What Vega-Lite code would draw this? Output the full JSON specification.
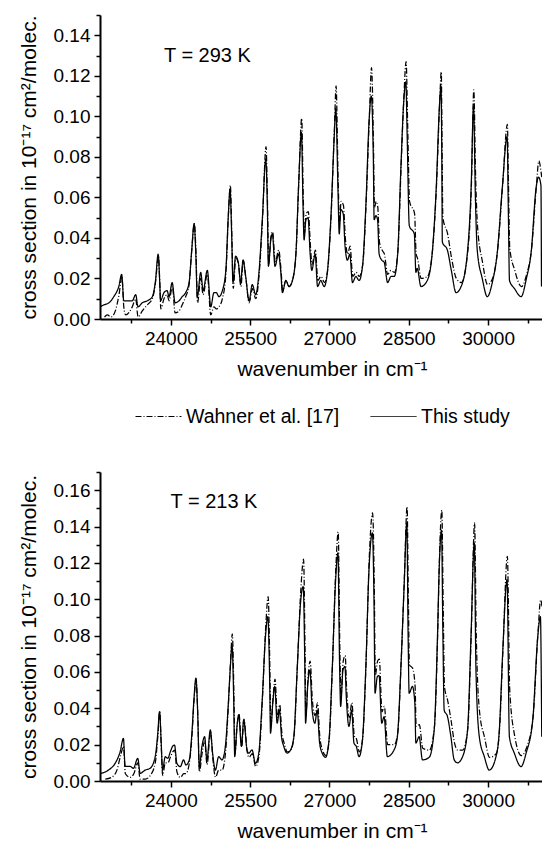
{
"$schema": "https://vega.github.io/schema/vega-lite/v6.json",
"padding": {"left": 18, "top": 14, "right": 0, "bottom": 0},
"spacing": 45,
"config": {
  "view": {"stroke": null},
  "font": "Liberation Sans",
  "axis": {"domainColor": "#000", "domainWidth": 2, "tickColor": "#000", "tickWidth": 1.5, "labelFont": "Liberation Sans", "labelFontSize": 19, "labelColor": "#000", "titleFont": "Liberation Sans", "titleFontSize": 21, "titleColor": "#000", "titleFontWeight": "normal", "grid": false, "labelFlush": false, "labelOverlap": false, "labelPadding": 4, "tickCount": 100},
  "legend": {"labelFont": "Liberation Sans", "labelFontSize": 19.5, "labelColor": "#000"}
},
"resolve": {"scale": {"strokeDash": "independent"}},
"datasets": {
"hot": [
{"x":22660,"y":0.006,"s":"This study"},{"x":22735,"y":0.007,"s":"This study"},{"x":22830,"y":0.008,"s":"This study"},{"x":22920,"y":0.011,"s":"This study"},{"x":23015,"y":0.016,"s":"This study"},{"x":23070,"y":0.022,"s":"This study"},{"x":23110,"y":0.009,"s":"This study"},{"x":23205,"y":0.009,"s":"This study"},{"x":23270,"y":0.009,"s":"This study"},{"x":23335,"y":0.012,"s":"This study"},{"x":23380,"y":0.006,"s":"This study"},{"x":23460,"y":0.008,"s":"This study"},{"x":23555,"y":0.009,"s":"This study"},{"x":23650,"y":0.011,"s":"This study"},{"x":23710,"y":0.019,"s":"This study"},{"x":23760,"y":0.032,"s":"This study"},{"x":23790,"y":0.018,"s":"This study"},{"x":23805,"y":0.009,"s":"This study"},{"x":23870,"y":0.013,"s":"This study"},{"x":23930,"y":0.014,"s":"This study"},{"x":23965,"y":0.011,"s":"This study"},{"x":24025,"y":0.018,"s":"This study"},{"x":24080,"y":0.008,"s":"This study"},{"x":24155,"y":0.009,"s":"This study"},{"x":24215,"y":0.011,"s":"This study"},{"x":24280,"y":0.013,"s":"This study"},{"x":24345,"y":0.018,"s":"This study"},{"x":24395,"y":0.034,"s":"This study"},{"x":24440,"y":0.047,"s":"This study"},{"x":24470,"y":0.034,"s":"This study"},{"x":24500,"y":0.011,"s":"This study"},{"x":24565,"y":0.023,"s":"This study"},{"x":24610,"y":0.014,"s":"This study"},{"x":24690,"y":0.024,"s":"This study"},{"x":24755,"y":0.006,"s":"This study"},{"x":24815,"y":0.013,"s":"This study"},{"x":24860,"y":0.013,"s":"This study"},{"x":24910,"y":0.011,"s":"This study"},{"x":24975,"y":0.014,"s":"This study"},{"x":25040,"y":0.024,"s":"This study"},{"x":25085,"y":0.050,"s":"This study"},{"x":25120,"y":0.064,"s":"This study"},{"x":25150,"y":0.042,"s":"This study"},{"x":25175,"y":0.018,"s":"This study"},{"x":25225,"y":0.031,"s":"This study"},{"x":25275,"y":0.028,"s":"This study"},{"x":25320,"y":0.018,"s":"This study"},{"x":25365,"y":0.029,"s":"This study"},{"x":25415,"y":0.021,"s":"This study"},{"x":25480,"y":0.009,"s":"This study"},{"x":25540,"y":0.017,"s":"This study"},{"x":25605,"y":0.012,"s":"This study"},{"x":25670,"y":0.024,"s":"This study"},{"x":25730,"y":0.049,"s":"This study"},{"x":25795,"y":0.079,"s":"This study"},{"x":25825,"y":0.056,"s":"This study"},{"x":25845,"y":0.026,"s":"This study"},{"x":25890,"y":0.039,"s":"This study"},{"x":25920,"y":0.042,"s":"This study"},{"x":25970,"y":0.026,"s":"This study"},{"x":26035,"y":0.032,"s":"This study"},{"x":26080,"y":0.023,"s":"This study"},{"x":26110,"y":0.013,"s":"This study"},{"x":26175,"y":0.019,"s":"This study"},{"x":26235,"y":0.016,"s":"This study"},{"x":26300,"y":0.019,"s":"This study"},{"x":26365,"y":0.032,"s":"This study"},{"x":26415,"y":0.065,"s":"This study"},{"x":26470,"y":0.092,"s":"This study"},{"x":26500,"y":0.056,"s":"This study"},{"x":26520,"y":0.039,"s":"This study"},{"x":26555,"y":0.049,"s":"This study"},{"x":26595,"y":0.050,"s":"This study"},{"x":26635,"y":0.032,"s":"This study"},{"x":26665,"y":0.024,"s":"This study"},{"x":26730,"y":0.032,"s":"This study"},{"x":26775,"y":0.016,"s":"This study"},{"x":26835,"y":0.019,"s":"This study"},{"x":26900,"y":0.016,"s":"This study"},{"x":26960,"y":0.023,"s":"This study"},{"x":27025,"y":0.049,"s":"This study"},{"x":27090,"y":0.090,"s":"This study"},{"x":27120,"y":0.104,"s":"This study"},{"x":27160,"y":0.065,"s":"This study"},{"x":27185,"y":0.042,"s":"This study"},{"x":27215,"y":0.054,"s":"This study"},{"x":27260,"y":0.052,"s":"This study"},{"x":27295,"y":0.036,"s":"This study"},{"x":27340,"y":0.029,"s":"This study"},{"x":27385,"y":0.032,"s":"This study"},{"x":27435,"y":0.018,"s":"This study"},{"x":27500,"y":0.021,"s":"This study"},{"x":27560,"y":0.019,"s":"This study"},{"x":27625,"y":0.026,"s":"This study"},{"x":27690,"y":0.057,"s":"This study"},{"x":27750,"y":0.098,"s":"This study"},{"x":27790,"y":0.110,"s":"This study"},{"x":27830,"y":0.079,"s":"This study"},{"x":27845,"y":0.049,"s":"This study"},{"x":27880,"y":0.051,"s":"This study"},{"x":27910,"y":0.049,"s":"This study"},{"x":27940,"y":0.032,"s":"This study"},{"x":27990,"y":0.029,"s":"This study"},{"x":28035,"y":0.028,"s":"This study"},{"x":28100,"y":0.018,"s":"This study"},{"x":28165,"y":0.021,"s":"This study"},{"x":28225,"y":0.021,"s":"This study"},{"x":28290,"y":0.032,"s":"This study"},{"x":28350,"y":0.074,"s":"This study"},{"x":28400,"y":0.105,"s":"This study"},{"x":28445,"y":0.117,"s":"This study"},{"x":28470,"y":0.090,"s":"This study"},{"x":28510,"y":0.046,"s":"This study"},{"x":28605,"y":0.042,"s":"This study"},{"x":28635,"y":0.023,"s":"This study"},{"x":28660,"y":0.025,"s":"This study"},{"x":28730,"y":0.016,"s":"This study"},{"x":28850,"y":0.019,"s":"This study"},{"x":28945,"y":0.033,"s":"This study"},{"x":29020,"y":0.065,"s":"This study"},{"x":29080,"y":0.105,"s":"This study"},{"x":29110,"y":0.115,"s":"This study"},{"x":29125,"y":0.080,"s":"This study"},{"x":29135,"y":0.038,"s":"This study"},{"x":29230,"y":0.034,"s":"This study"},{"x":29305,"y":0.024,"s":"This study"},{"x":29395,"y":0.013,"s":"This study"},{"x":29490,"y":0.016,"s":"This study"},{"x":29610,"y":0.033,"s":"This study"},{"x":29680,"y":0.065,"s":"This study"},{"x":29725,"y":0.105,"s":"This study"},{"x":29760,"y":0.060,"s":"This study"},{"x":29795,"y":0.034,"s":"This study"},{"x":29890,"y":0.020,"s":"This study"},{"x":29985,"y":0.011,"s":"This study"},{"x":30080,"y":0.018,"s":"This study"},{"x":30175,"y":0.033,"s":"This study"},{"x":30270,"y":0.065,"s":"This study"},{"x":30360,"y":0.090,"s":"This study"},{"x":30385,"y":0.050,"s":"This study"},{"x":30405,"y":0.019,"s":"This study"},{"x":30500,"y":0.015,"s":"This study"},{"x":30625,"y":0.011,"s":"This study"},{"x":30725,"y":0.020,"s":"This study"},{"x":30815,"y":0.033,"s":"This study"},{"x":30910,"y":0.065,"s":"This study"},{"x":30955,"y":0.070,"s":"This study"},{"x":31000,"y":0.066,"s":"This study"},{"x":31010,"y":0.016,"s":"This study"},
{"x":22745,"y":0.001,"s":"Wahner et al. [17]"},{"x":22800,"y":0.002,"s":"Wahner et al. [17]"},{"x":22870,"y":0.001,"s":"Wahner et al. [17]"},{"x":22950,"y":0.004,"s":"Wahner et al. [17]"},{"x":23020,"y":0.012,"s":"Wahner et al. [17]"},{"x":23075,"y":0.021,"s":"Wahner et al. [17]"},{"x":23110,"y":0.006,"s":"Wahner et al. [17]"},{"x":23145,"y":0.002,"s":"Wahner et al. [17]"},{"x":23270,"y":0.006,"s":"Wahner et al. [17]"},{"x":23335,"y":0.010,"s":"Wahner et al. [17]"},{"x":23380,"y":0.001,"s":"Wahner et al. [17]"},{"x":23460,"y":0.004,"s":"Wahner et al. [17]"},{"x":23555,"y":0.007,"s":"Wahner et al. [17]"},{"x":23650,"y":0.010,"s":"Wahner et al. [17]"},{"x":23710,"y":0.018,"s":"Wahner et al. [17]"},{"x":23765,"y":0.031,"s":"Wahner et al. [17]"},{"x":23795,"y":0.015,"s":"Wahner et al. [17]"},{"x":23810,"y":0.005,"s":"Wahner et al. [17]"},{"x":23870,"y":0.010,"s":"Wahner et al. [17]"},{"x":23930,"y":0.012,"s":"Wahner et al. [17]"},{"x":23965,"y":0.009,"s":"Wahner et al. [17]"},{"x":24030,"y":0.016,"s":"Wahner et al. [17]"},{"x":24080,"y":0.003,"s":"Wahner et al. [17]"},{"x":24155,"y":0.004,"s":"Wahner et al. [17]"},{"x":24215,"y":0.007,"s":"Wahner et al. [17]"},{"x":24280,"y":0.011,"s":"Wahner et al. [17]"},{"x":24345,"y":0.017,"s":"Wahner et al. [17]"},{"x":24395,"y":0.034,"s":"Wahner et al. [17]"},{"x":24445,"y":0.047,"s":"Wahner et al. [17]"},{"x":24475,"y":0.033,"s":"Wahner et al. [17]"},{"x":24505,"y":0.008,"s":"Wahner et al. [17]"},{"x":24565,"y":0.020,"s":"Wahner et al. [17]"},{"x":24610,"y":0.012,"s":"Wahner et al. [17]"},{"x":24690,"y":0.022,"s":"Wahner et al. [17]"},{"x":24755,"y":0.002,"s":"Wahner et al. [17]"},{"x":24815,"y":0.006,"s":"Wahner et al. [17]"},{"x":24860,"y":0.005,"s":"Wahner et al. [17]"},{"x":24910,"y":0.006,"s":"Wahner et al. [17]"},{"x":24975,"y":0.010,"s":"Wahner et al. [17]"},{"x":25040,"y":0.022,"s":"Wahner et al. [17]"},{"x":25090,"y":0.052,"s":"Wahner et al. [17]"},{"x":25125,"y":0.066,"s":"Wahner et al. [17]"},{"x":25155,"y":0.040,"s":"Wahner et al. [17]"},{"x":25180,"y":0.015,"s":"Wahner et al. [17]"},{"x":25230,"y":0.030,"s":"Wahner et al. [17]"},{"x":25280,"y":0.027,"s":"Wahner et al. [17]"},{"x":25325,"y":0.016,"s":"Wahner et al. [17]"},{"x":25370,"y":0.029,"s":"Wahner et al. [17]"},{"x":25420,"y":0.020,"s":"Wahner et al. [17]"},{"x":25480,"y":0.008,"s":"Wahner et al. [17]"},{"x":25545,"y":0.015,"s":"Wahner et al. [17]"},{"x":25605,"y":0.010,"s":"Wahner et al. [17]"},{"x":25670,"y":0.022,"s":"Wahner et al. [17]"},{"x":25735,"y":0.050,"s":"Wahner et al. [17]"},{"x":25800,"y":0.085,"s":"Wahner et al. [17]"},{"x":25830,"y":0.055,"s":"Wahner et al. [17]"},{"x":25850,"y":0.027,"s":"Wahner et al. [17]"},{"x":25895,"y":0.041,"s":"Wahner et al. [17]"},{"x":25925,"y":0.043,"s":"Wahner et al. [17]"},{"x":25975,"y":0.028,"s":"Wahner et al. [17]"},{"x":26040,"y":0.034,"s":"Wahner et al. [17]"},{"x":26085,"y":0.024,"s":"Wahner et al. [17]"},{"x":26115,"y":0.014,"s":"Wahner et al. [17]"},{"x":26175,"y":0.019,"s":"Wahner et al. [17]"},{"x":26240,"y":0.016,"s":"Wahner et al. [17]"},{"x":26300,"y":0.019,"s":"Wahner et al. [17]"},{"x":26370,"y":0.034,"s":"Wahner et al. [17]"},{"x":26420,"y":0.068,"s":"Wahner et al. [17]"},{"x":26475,"y":0.099,"s":"Wahner et al. [17]"},{"x":26505,"y":0.060,"s":"Wahner et al. [17]"},{"x":26525,"y":0.042,"s":"Wahner et al. [17]"},{"x":26560,"y":0.052,"s":"Wahner et al. [17]"},{"x":26600,"y":0.053,"s":"Wahner et al. [17]"},{"x":26640,"y":0.036,"s":"Wahner et al. [17]"},{"x":26670,"y":0.027,"s":"Wahner et al. [17]"},{"x":26735,"y":0.034,"s":"Wahner et al. [17]"},{"x":26780,"y":0.019,"s":"Wahner et al. [17]"},{"x":26840,"y":0.021,"s":"Wahner et al. [17]"},{"x":26905,"y":0.018,"s":"Wahner et al. [17]"},{"x":26965,"y":0.024,"s":"Wahner et al. [17]"},{"x":27030,"y":0.050,"s":"Wahner et al. [17]"},{"x":27095,"y":0.095,"s":"Wahner et al. [17]"},{"x":27125,"y":0.115,"s":"Wahner et al. [17]"},{"x":27165,"y":0.068,"s":"Wahner et al. [17]"},{"x":27190,"y":0.047,"s":"Wahner et al. [17]"},{"x":27220,"y":0.058,"s":"Wahner et al. [17]"},{"x":27265,"y":0.056,"s":"Wahner et al. [17]"},{"x":27300,"y":0.040,"s":"Wahner et al. [17]"},{"x":27345,"y":0.032,"s":"Wahner et al. [17]"},{"x":27390,"y":0.036,"s":"Wahner et al. [17]"},{"x":27440,"y":0.021,"s":"Wahner et al. [17]"},{"x":27505,"y":0.023,"s":"Wahner et al. [17]"},{"x":27565,"y":0.021,"s":"Wahner et al. [17]"},{"x":27630,"y":0.027,"s":"Wahner et al. [17]"},{"x":27695,"y":0.058,"s":"Wahner et al. [17]"},{"x":27755,"y":0.100,"s":"Wahner et al. [17]"},{"x":27795,"y":0.124,"s":"Wahner et al. [17]"},{"x":27835,"y":0.082,"s":"Wahner et al. [17]"},{"x":27850,"y":0.055,"s":"Wahner et al. [17]"},{"x":27885,"y":0.058,"s":"Wahner et al. [17]"},{"x":27915,"y":0.055,"s":"Wahner et al. [17]"},{"x":27945,"y":0.038,"s":"Wahner et al. [17]"},{"x":27995,"y":0.034,"s":"Wahner et al. [17]"},{"x":28040,"y":0.032,"s":"Wahner et al. [17]"},{"x":28100,"y":0.022,"s":"Wahner et al. [17]"},{"x":28165,"y":0.024,"s":"Wahner et al. [17]"},{"x":28230,"y":0.023,"s":"Wahner et al. [17]"},{"x":28295,"y":0.034,"s":"Wahner et al. [17]"},{"x":28355,"y":0.075,"s":"Wahner et al. [17]"},{"x":28405,"y":0.108,"s":"Wahner et al. [17]"},{"x":28450,"y":0.127,"s":"Wahner et al. [17]"},{"x":28480,"y":0.095,"s":"Wahner et al. [17]"},{"x":28515,"y":0.058,"s":"Wahner et al. [17]"},{"x":28610,"y":0.052,"s":"Wahner et al. [17]"},{"x":28640,"y":0.032,"s":"Wahner et al. [17]"},{"x":28665,"y":0.030,"s":"Wahner et al. [17]"},{"x":28735,"y":0.020,"s":"Wahner et al. [17]"},{"x":28855,"y":0.021,"s":"Wahner et al. [17]"},{"x":28950,"y":0.034,"s":"Wahner et al. [17]"},{"x":29025,"y":0.066,"s":"Wahner et al. [17]"},{"x":29085,"y":0.107,"s":"Wahner et al. [17]"},{"x":29115,"y":0.122,"s":"Wahner et al. [17]"},{"x":29130,"y":0.085,"s":"Wahner et al. [17]"},{"x":29145,"y":0.050,"s":"Wahner et al. [17]"},{"x":29235,"y":0.042,"s":"Wahner et al. [17]"},{"x":29310,"y":0.030,"s":"Wahner et al. [17]"},{"x":29400,"y":0.020,"s":"Wahner et al. [17]"},{"x":29495,"y":0.018,"s":"Wahner et al. [17]"},{"x":29615,"y":0.033,"s":"Wahner et al. [17]"},{"x":29685,"y":0.066,"s":"Wahner et al. [17]"},{"x":29730,"y":0.113,"s":"Wahner et al. [17]"},{"x":29765,"y":0.070,"s":"Wahner et al. [17]"},{"x":29800,"y":0.046,"s":"Wahner et al. [17]"},{"x":29895,"y":0.028,"s":"Wahner et al. [17]"},{"x":29990,"y":0.017,"s":"Wahner et al. [17]"},{"x":30085,"y":0.020,"s":"Wahner et al. [17]"},{"x":30180,"y":0.034,"s":"Wahner et al. [17]"},{"x":30275,"y":0.066,"s":"Wahner et al. [17]"},{"x":30365,"y":0.096,"s":"Wahner et al. [17]"},{"x":30390,"y":0.060,"s":"Wahner et al. [17]"},{"x":30410,"y":0.035,"s":"Wahner et al. [17]"},{"x":30505,"y":0.024,"s":"Wahner et al. [17]"},{"x":30630,"y":0.016,"s":"Wahner et al. [17]"},{"x":30730,"y":0.022,"s":"Wahner et al. [17]"},{"x":30820,"y":0.034,"s":"Wahner et al. [17]"},{"x":30915,"y":0.066,"s":"Wahner et al. [17]"},{"x":30960,"y":0.078,"s":"Wahner et al. [17]"},{"x":31005,"y":0.072,"s":"Wahner et al. [17]"},{"x":31015,"y":0.070,"s":"Wahner et al. [17]"}
],
"cold": [
{"x":22655,"y":0.004,"s":"This study"},{"x":22819,"y":0.006,"s":"This study"},{"x":22946,"y":0.0097,"s":"This study"},{"x":23040,"y":0.016,"s":"This study"},{"x":23103,"y":0.0235,"s":"This study"},{"x":23135,"y":0.008,"s":"This study"},{"x":23230,"y":0.008,"s":"This study"},{"x":23293,"y":0.007,"s":"This study"},{"x":23374,"y":0.0125,"s":"This study"},{"x":23420,"y":0.0042,"s":"This study"},{"x":23514,"y":0.006,"s":"This study"},{"x":23609,"y":0.007,"s":"This study"},{"x":23704,"y":0.0134,"s":"This study"},{"x":23753,"y":0.0263,"s":"This study"},{"x":23786,"y":0.0382,"s":"This study"},{"x":23818,"y":0.0208,"s":"This study"},{"x":23843,"y":0.006,"s":"This study"},{"x":23894,"y":0.0134,"s":"This study"},{"x":23943,"y":0.0125,"s":"This study"},{"x":23989,"y":0.016,"s":"This study"},{"x":24032,"y":0.019,"s":"This study"},{"x":24070,"y":0.0198,"s":"This study"},{"x":24114,"y":0.0097,"s":"This study"},{"x":24178,"y":0.0079,"s":"This study"},{"x":24241,"y":0.0116,"s":"This study"},{"x":24284,"y":0.0088,"s":"This study"},{"x":24349,"y":0.0116,"s":"This study"},{"x":24398,"y":0.0263,"s":"This study"},{"x":24436,"y":0.0446,"s":"This study"},{"x":24474,"y":0.0566,"s":"This study"},{"x":24506,"y":0.039,"s":"This study"},{"x":24538,"y":0.0079,"s":"This study"},{"x":24588,"y":0.019,"s":"This study"},{"x":24639,"y":0.0244,"s":"This study"},{"x":24682,"y":0.0116,"s":"This study"},{"x":24747,"y":0.0281,"s":"This study"},{"x":24790,"y":0.0153,"s":"This study"},{"x":24842,"y":0.006,"s":"This study"},{"x":24904,"y":0.0134,"s":"This study"},{"x":24967,"y":0.0116,"s":"This study"},{"x":25031,"y":0.019,"s":"This study"},{"x":25080,"y":0.039,"s":"This study"},{"x":25126,"y":0.063,"s":"This study"},{"x":25156,"y":0.075,"s":"This study"},{"x":25189,"y":0.0446,"s":"This study"},{"x":25208,"y":0.0134,"s":"This study"},{"x":25251,"y":0.030,"s":"This study"},{"x":25283,"y":0.0364,"s":"This study"},{"x":25335,"y":0.019,"s":"This study"},{"x":25378,"y":0.0336,"s":"This study"},{"x":25441,"y":0.017,"s":"This study"},{"x":25473,"y":0.0153,"s":"This study"},{"x":25536,"y":0.0171,"s":"This study"},{"x":25600,"y":0.0097,"s":"This study"},{"x":25663,"y":0.0153,"s":"This study"},{"x":25725,"y":0.0428,"s":"This study"},{"x":25790,"y":0.0795,"s":"This study"},{"x":25833,"y":0.0905,"s":"This study"},{"x":25871,"y":0.052,"s":"This study"},{"x":25885,"y":0.0263,"s":"This study"},{"x":25928,"y":0.0428,"s":"This study"},{"x":25966,"y":0.052,"s":"This study"},{"x":26010,"y":0.0318,"s":"This study"},{"x":26055,"y":0.039,"s":"This study"},{"x":26093,"y":0.0244,"s":"This study"},{"x":26137,"y":0.019,"s":"This study"},{"x":26199,"y":0.0153,"s":"This study"},{"x":26264,"y":0.0171,"s":"This study"},{"x":26326,"y":0.0244,"s":"This study"},{"x":26389,"y":0.061,"s":"This study"},{"x":26453,"y":0.098,"s":"This study"},{"x":26503,"y":0.107,"s":"This study"},{"x":26535,"y":0.061,"s":"This study"},{"x":26548,"y":0.0318,"s":"This study"},{"x":26592,"y":0.0538,"s":"This study"},{"x":26630,"y":0.061,"s":"This study"},{"x":26673,"y":0.039,"s":"This study"},{"x":26724,"y":0.0318,"s":"This study"},{"x":26768,"y":0.039,"s":"This study"},{"x":26814,"y":0.0208,"s":"This study"},{"x":26863,"y":0.0153,"s":"This study"},{"x":26927,"y":0.013,"s":"This study"},{"x":26990,"y":0.022,"s":"This study"},{"x":27052,"y":0.061,"s":"This study"},{"x":27117,"y":0.1108,"s":"This study"},{"x":27160,"y":0.1255,"s":"This study"},{"x":27193,"y":0.061,"s":"This study"},{"x":27212,"y":0.041,"s":"This study"},{"x":27255,"y":0.061,"s":"This study"},{"x":27293,"y":0.063,"s":"This study"},{"x":27318,"y":0.0465,"s":"This study"},{"x":27369,"y":0.030,"s":"This study"},{"x":27420,"y":0.039,"s":"This study"},{"x":27464,"y":0.0208,"s":"This study"},{"x":27508,"y":0.019,"s":"This study"},{"x":27559,"y":0.0134,"s":"This study"},{"x":27621,"y":0.0215,"s":"This study"},{"x":27686,"y":0.061,"s":"This study"},{"x":27748,"y":0.1163,"s":"This study"},{"x":27811,"y":0.1365,"s":"This study"},{"x":27843,"y":0.098,"s":"This study"},{"x":27862,"y":0.0483,"s":"This study"},{"x":27906,"y":0.0575,"s":"This study"},{"x":27938,"y":0.058,"s":"This study"},{"x":27989,"y":0.0318,"s":"This study"},{"x":28033,"y":0.0354,"s":"This study"},{"x":28095,"y":0.0134,"s":"This study"},{"x":28222,"y":0.0171,"s":"This study"},{"x":28285,"y":0.0244,"s":"This study"},{"x":28349,"y":0.061,"s":"This study"},{"x":28412,"y":0.107,"s":"This study"},{"x":28463,"y":0.142,"s":"This study"},{"x":28488,"y":0.0795,"s":"This study"},{"x":28507,"y":0.0483,"s":"This study"},{"x":28569,"y":0.052,"s":"This study"},{"x":28615,"y":0.0428,"s":"This study"},{"x":28634,"y":0.0208,"s":"This study"},{"x":28696,"y":0.0244,"s":"This study"},{"x":28759,"y":0.0116,"s":"This study"},{"x":28886,"y":0.013,"s":"This study"},{"x":28981,"y":0.028,"s":"This study"},{"x":29043,"y":0.0795,"s":"This study"},{"x":29075,"y":0.1163,"s":"This study"},{"x":29119,"y":0.138,"s":"This study"},{"x":29146,"y":0.0795,"s":"This study"},{"x":29170,"y":0.039,"s":"This study"},{"x":29233,"y":0.0354,"s":"This study"},{"x":29297,"y":0.0244,"s":"This study"},{"x":29360,"y":0.0116,"s":"This study"},{"x":29423,"y":0.010,"s":"This study"},{"x":29518,"y":0.0134,"s":"This study"},{"x":29612,"y":0.028,"s":"This study"},{"x":29677,"y":0.0795,"s":"This study"},{"x":29739,"y":0.131,"s":"This study"},{"x":29771,"y":0.061,"s":"This study"},{"x":29834,"y":0.0244,"s":"This study"},{"x":29929,"y":0.0134,"s":"This study"},{"x":30023,"y":0.006,"s":"This study"},{"x":30150,"y":0.0134,"s":"This study"},{"x":30213,"y":0.028,"s":"This study"},{"x":30276,"y":0.0704,"s":"This study"},{"x":30359,"y":0.1108,"s":"This study"},{"x":30403,"y":0.0244,"s":"This study"},{"x":30497,"y":0.0153,"s":"This study"},{"x":30624,"y":0.0079,"s":"This study"},{"x":30719,"y":0.0153,"s":"This study"},{"x":30845,"y":0.0336,"s":"This study"},{"x":30940,"y":0.0795,"s":"This study"},{"x":30990,"y":0.0905,"s":"This study"},{"x":31015,"y":0.0244,"s":"This study"},
{"x":22760,"y":0.001,"s":"Wahner et al. [17]"},{"x":22880,"y":0.002,"s":"Wahner et al. [17]"},{"x":22980,"y":0.006,"s":"Wahner et al. [17]"},{"x":23050,"y":0.014,"s":"Wahner et al. [17]"},{"x":23105,"y":0.019,"s":"Wahner et al. [17]"},{"x":23140,"y":0.004,"s":"Wahner et al. [17]"},{"x":23230,"y":0.002,"s":"Wahner et al. [17]"},{"x":23300,"y":0.004,"s":"Wahner et al. [17]"},{"x":23375,"y":0.010,"s":"Wahner et al. [17]"},{"x":23420,"y":0.001,"s":"Wahner et al. [17]"},{"x":23515,"y":0.001,"s":"Wahner et al. [17]"},{"x":23610,"y":0.003,"s":"Wahner et al. [17]"},{"x":23705,"y":0.010,"s":"Wahner et al. [17]"},{"x":23755,"y":0.025,"s":"Wahner et al. [17]"},{"x":23790,"y":0.038,"s":"Wahner et al. [17]"},{"x":23820,"y":0.018,"s":"Wahner et al. [17]"},{"x":23845,"y":0.003,"s":"Wahner et al. [17]"},{"x":23895,"y":0.010,"s":"Wahner et al. [17]"},{"x":23945,"y":0.010,"s":"Wahner et al. [17]"},{"x":23990,"y":0.013,"s":"Wahner et al. [17]"},{"x":24035,"y":0.016,"s":"Wahner et al. [17]"},{"x":24075,"y":0.017,"s":"Wahner et al. [17]"},{"x":24115,"y":0.005,"s":"Wahner et al. [17]"},{"x":24180,"y":0.002,"s":"Wahner et al. [17]"},{"x":24245,"y":0.004,"s":"Wahner et al. [17]"},{"x":24285,"y":0.004,"s":"Wahner et al. [17]"},{"x":24350,"y":0.010,"s":"Wahner et al. [17]"},{"x":24400,"y":0.025,"s":"Wahner et al. [17]"},{"x":24440,"y":0.045,"s":"Wahner et al. [17]"},{"x":24478,"y":0.056,"s":"Wahner et al. [17]"},{"x":24510,"y":0.036,"s":"Wahner et al. [17]"},{"x":24540,"y":0.005,"s":"Wahner et al. [17]"},{"x":24590,"y":0.015,"s":"Wahner et al. [17]"},{"x":24640,"y":0.022,"s":"Wahner et al. [17]"},{"x":24685,"y":0.009,"s":"Wahner et al. [17]"},{"x":24750,"y":0.027,"s":"Wahner et al. [17]"},{"x":24795,"y":0.012,"s":"Wahner et al. [17]"},{"x":24845,"y":0.002,"s":"Wahner et al. [17]"},{"x":24905,"y":0.006,"s":"Wahner et al. [17]"},{"x":24970,"y":0.006,"s":"Wahner et al. [17]"},{"x":25035,"y":0.016,"s":"Wahner et al. [17]"},{"x":25085,"y":0.040,"s":"Wahner et al. [17]"},{"x":25130,"y":0.066,"s":"Wahner et al. [17]"},{"x":25162,"y":0.081,"s":"Wahner et al. [17]"},{"x":25195,"y":0.044,"s":"Wahner et al. [17]"},{"x":25212,"y":0.015,"s":"Wahner et al. [17]"},{"x":25255,"y":0.031,"s":"Wahner et al. [17]"},{"x":25288,"y":0.037,"s":"Wahner et al. [17]"},{"x":25340,"y":0.019,"s":"Wahner et al. [17]"},{"x":25383,"y":0.034,"s":"Wahner et al. [17]"},{"x":25445,"y":0.016,"s":"Wahner et al. [17]"},{"x":25478,"y":0.013,"s":"Wahner et al. [17]"},{"x":25540,"y":0.015,"s":"Wahner et al. [17]"},{"x":25605,"y":0.008,"s":"Wahner et al. [17]"},{"x":25668,"y":0.014,"s":"Wahner et al. [17]"},{"x":25730,"y":0.044,"s":"Wahner et al. [17]"},{"x":25795,"y":0.085,"s":"Wahner et al. [17]"},{"x":25840,"y":0.1015,"s":"Wahner et al. [17]"},{"x":25875,"y":0.058,"s":"Wahner et al. [17]"},{"x":25890,"y":0.030,"s":"Wahner et al. [17]"},{"x":25933,"y":0.046,"s":"Wahner et al. [17]"},{"x":25971,"y":0.056,"s":"Wahner et al. [17]"},{"x":26015,"y":0.035,"s":"Wahner et al. [17]"},{"x":26060,"y":0.042,"s":"Wahner et al. [17]"},{"x":26098,"y":0.027,"s":"Wahner et al. [17]"},{"x":26142,"y":0.021,"s":"Wahner et al. [17]"},{"x":26204,"y":0.016,"s":"Wahner et al. [17]"},{"x":26269,"y":0.017,"s":"Wahner et al. [17]"},{"x":26331,"y":0.025,"s":"Wahner et al. [17]"},{"x":26394,"y":0.064,"s":"Wahner et al. [17]"},{"x":26458,"y":0.105,"s":"Wahner et al. [17]"},{"x":26510,"y":0.122,"s":"Wahner et al. [17]"},{"x":26540,"y":0.068,"s":"Wahner et al. [17]"},{"x":26553,"y":0.036,"s":"Wahner et al. [17]"},{"x":26597,"y":0.058,"s":"Wahner et al. [17]"},{"x":26635,"y":0.066,"s":"Wahner et al. [17]"},{"x":26678,"y":0.044,"s":"Wahner et al. [17]"},{"x":26729,"y":0.036,"s":"Wahner et al. [17]"},{"x":26773,"y":0.043,"s":"Wahner et al. [17]"},{"x":26819,"y":0.024,"s":"Wahner et al. [17]"},{"x":26868,"y":0.017,"s":"Wahner et al. [17]"},{"x":26932,"y":0.014,"s":"Wahner et al. [17]"},{"x":26995,"y":0.023,"s":"Wahner et al. [17]"},{"x":27057,"y":0.064,"s":"Wahner et al. [17]"},{"x":27122,"y":0.118,"s":"Wahner et al. [17]"},{"x":27165,"y":0.137,"s":"Wahner et al. [17]"},{"x":27198,"y":0.070,"s":"Wahner et al. [17]"},{"x":27217,"y":0.046,"s":"Wahner et al. [17]"},{"x":27260,"y":0.066,"s":"Wahner et al. [17]"},{"x":27298,"y":0.069,"s":"Wahner et al. [17]"},{"x":27323,"y":0.052,"s":"Wahner et al. [17]"},{"x":27374,"y":0.035,"s":"Wahner et al. [17]"},{"x":27425,"y":0.043,"s":"Wahner et al. [17]"},{"x":27469,"y":0.025,"s":"Wahner et al. [17]"},{"x":27513,"y":0.023,"s":"Wahner et al. [17]"},{"x":27564,"y":0.016,"s":"Wahner et al. [17]"},{"x":27626,"y":0.023,"s":"Wahner et al. [17]"},{"x":27691,"y":0.064,"s":"Wahner et al. [17]"},{"x":27753,"y":0.123,"s":"Wahner et al. [17]"},{"x":27816,"y":0.1475,"s":"Wahner et al. [17]"},{"x":27848,"y":0.107,"s":"Wahner et al. [17]"},{"x":27867,"y":0.058,"s":"Wahner et al. [17]"},{"x":27911,"y":0.066,"s":"Wahner et al. [17]"},{"x":27943,"y":0.067,"s":"Wahner et al. [17]"},{"x":27994,"y":0.038,"s":"Wahner et al. [17]"},{"x":28038,"y":0.041,"s":"Wahner et al. [17]"},{"x":28100,"y":0.020,"s":"Wahner et al. [17]"},{"x":28227,"y":0.020,"s":"Wahner et al. [17]"},{"x":28290,"y":0.026,"s":"Wahner et al. [17]"},{"x":28354,"y":0.064,"s":"Wahner et al. [17]"},{"x":28417,"y":0.112,"s":"Wahner et al. [17]"},{"x":28468,"y":0.151,"s":"Wahner et al. [17]"},{"x":28495,"y":0.095,"s":"Wahner et al. [17]"},{"x":28512,"y":0.064,"s":"Wahner et al. [17]"},{"x":28574,"y":0.062,"s":"Wahner et al. [17]"},{"x":28620,"y":0.052,"s":"Wahner et al. [17]"},{"x":28640,"y":0.030,"s":"Wahner et al. [17]"},{"x":28701,"y":0.031,"s":"Wahner et al. [17]"},{"x":28764,"y":0.018,"s":"Wahner et al. [17]"},{"x":28891,"y":0.017,"s":"Wahner et al. [17]"},{"x":28986,"y":0.030,"s":"Wahner et al. [17]"},{"x":29048,"y":0.082,"s":"Wahner et al. [17]"},{"x":29080,"y":0.122,"s":"Wahner et al. [17]"},{"x":29125,"y":0.149,"s":"Wahner et al. [17]"},{"x":29152,"y":0.095,"s":"Wahner et al. [17]"},{"x":29175,"y":0.052,"s":"Wahner et al. [17]"},{"x":29238,"y":0.044,"s":"Wahner et al. [17]"},{"x":29302,"y":0.033,"s":"Wahner et al. [17]"},{"x":29365,"y":0.021,"s":"Wahner et al. [17]"},{"x":29428,"y":0.017,"s":"Wahner et al. [17]"},{"x":29523,"y":0.017,"s":"Wahner et al. [17]"},{"x":29617,"y":0.029,"s":"Wahner et al. [17]"},{"x":29682,"y":0.081,"s":"Wahner et al. [17]"},{"x":29745,"y":0.142,"s":"Wahner et al. [17]"},{"x":29777,"y":0.080,"s":"Wahner et al. [17]"},{"x":29839,"y":0.038,"s":"Wahner et al. [17]"},{"x":29934,"y":0.024,"s":"Wahner et al. [17]"},{"x":30028,"y":0.013,"s":"Wahner et al. [17]"},{"x":30155,"y":0.015,"s":"Wahner et al. [17]"},{"x":30218,"y":0.029,"s":"Wahner et al. [17]"},{"x":30281,"y":0.072,"s":"Wahner et al. [17]"},{"x":30365,"y":0.1236,"s":"Wahner et al. [17]"},{"x":30410,"y":0.050,"s":"Wahner et al. [17]"},{"x":30502,"y":0.025,"s":"Wahner et al. [17]"},{"x":30629,"y":0.014,"s":"Wahner et al. [17]"},{"x":30724,"y":0.018,"s":"Wahner et al. [17]"},{"x":30850,"y":0.035,"s":"Wahner et al. [17]"},{"x":30945,"y":0.082,"s":"Wahner et al. [17]"},{"x":30995,"y":0.0997,"s":"Wahner et al. [17]"},{"x":31020,"y":0.096,"s":"Wahner et al. [17]"}
]
},
"vconcat": [
{
  "width": 442, "height": 304,
  "layer": [
    {
      "data": {"name": "hot"},
      "mark": {"type": "line", "clip": true, "strokeWidth": 1.25, "color": "#000", "interpolate": "monotone"},
      "encoding": {
        "x": {"field": "x", "type": "quantitative", "scale": {"domain": [22660, 31020], "nice": false, "zero": false},
          "axis": {"title": "wavenumber in cm⁻¹", "titleX": 232, "tickCount": 100, "labelOverlap": false, "values": [23250, 24000, 24750, 25500, 26250, 27000, 27750, 28500, 29250, 30000, 30750], "labelExpr": "datum.value % 1500 === 0 ? format(datum.value, 'd') : ''", "labelFontSize": {"condition": {"test": "datum.value % 1500 === 0", "value": 19}, "value": 1}, "tickSize": {"condition": {"test": "datum.value % 1500 === 0", "value": 6}, "value": 4}, "titlePadding": 10}},
        "y": {"field": "y", "type": "quantitative", "scale": {"domain": [0, 0.15], "nice": false},
          "axis": {"title": "cross section in 10⁻¹⁷ cm²/molec.", "tickCount": 100, "labelOverlap": false, "values": [0, 0.01, 0.02, 0.03, 0.04, 0.05, 0.06, 0.07, 0.08, 0.09, 0.1, 0.11, 0.12, 0.13, 0.14, 0.15], "labelExpr": "round(datum.value*100) % 2 === 0 ? format(datum.value, '.2f') : ''", "labelFontSize": {"condition": {"test": "round(datum.value*100) % 2 === 0", "value": 19}, "value": 1}, "tickSize": {"condition": {"test": "round(datum.value*100) % 2 === 0", "value": 6}, "value": 4}, "titlePadding": 14}},
        "strokeDash": {"field": "s", "type": "nominal", "scale": {"domain": ["Wahner et al. [17]", "This study"], "range": [[6, 2, 1, 2], [1, 0]]},
          "legend": {"orient": "none", "legendX": 35, "legendY": 378, "direction": "horizontal", "title": null, "symbolType": "stroke", "symbolSize": 2116, "symbolStrokeColor": "#000", "symbolStrokeWidth": 1, "columnPadding": 28, "labelOffset": 4}}
      }
    },
    {
      "data": {"values": [{}]},
      "mark": {"type": "text", "align": "left", "baseline": "alphabetic", "fontSize": 20, "font": "Liberation Sans", "color": "#000"},
      "encoding": {"x": {"datum": 23870, "type": "quantitative"}, "y": {"datum": 0.127, "type": "quantitative"}, "text": {"value": "T = 293 K"}}
    }
  ]
},
{
  "width": 442, "height": 309,
  "layer": [
    {
      "data": {"name": "cold"},
      "mark": {"type": "line", "clip": true, "strokeWidth": 1.25, "color": "#000", "interpolate": "monotone"},
      "encoding": {
        "x": {"field": "x", "type": "quantitative", "scale": {"domain": [22660, 31020], "nice": false, "zero": false},
          "axis": {"title": "wavenumber in cm⁻¹", "titleX": 232, "tickCount": 100, "labelOverlap": false, "values": [23250, 24000, 24750, 25500, 26250, 27000, 27750, 28500, 29250, 30000, 30750], "labelExpr": "datum.value % 1500 === 0 ? format(datum.value, 'd') : ''", "labelFontSize": {"condition": {"test": "datum.value % 1500 === 0", "value": 19}, "value": 1}, "tickSize": {"condition": {"test": "datum.value % 1500 === 0", "value": 6}, "value": 4}, "titlePadding": 10}},
        "y": {"field": "y", "type": "quantitative", "scale": {"domain": [0, 0.17], "nice": false},
          "axis": {"title": "cross section in 10⁻¹⁷ cm²/molec.", "tickCount": 100, "labelOverlap": false, "values": [0, 0.01, 0.02, 0.03, 0.04, 0.05, 0.06, 0.07, 0.08, 0.09, 0.1, 0.11, 0.12, 0.13, 0.14, 0.15, 0.16, 0.17], "labelExpr": "round(datum.value*100) % 2 === 0 ? format(datum.value, '.2f') : ''", "labelFontSize": {"condition": {"test": "round(datum.value*100) % 2 === 0", "value": 19}, "value": 1}, "tickSize": {"condition": {"test": "round(datum.value*100) % 2 === 0", "value": 6}, "value": 4}, "titlePadding": 14}},
        "strokeDash": {"field": "s", "type": "nominal", "scale": {"domain": ["Wahner et al. [17]", "This study"], "range": [[6, 2, 1, 2], [1, 0]]}, "legend": null}
      }
    },
    {
      "data": {"values": [{}]},
      "mark": {"type": "text", "align": "left", "baseline": "alphabetic", "fontSize": 20, "font": "Liberation Sans", "color": "#000"},
      "encoding": {"x": {"datum": 23994, "type": "quantitative"}, "y": {"datum": 0.1504, "type": "quantitative"}, "text": {"value": "T = 213 K"}}
    }
  ]
}
]
}
